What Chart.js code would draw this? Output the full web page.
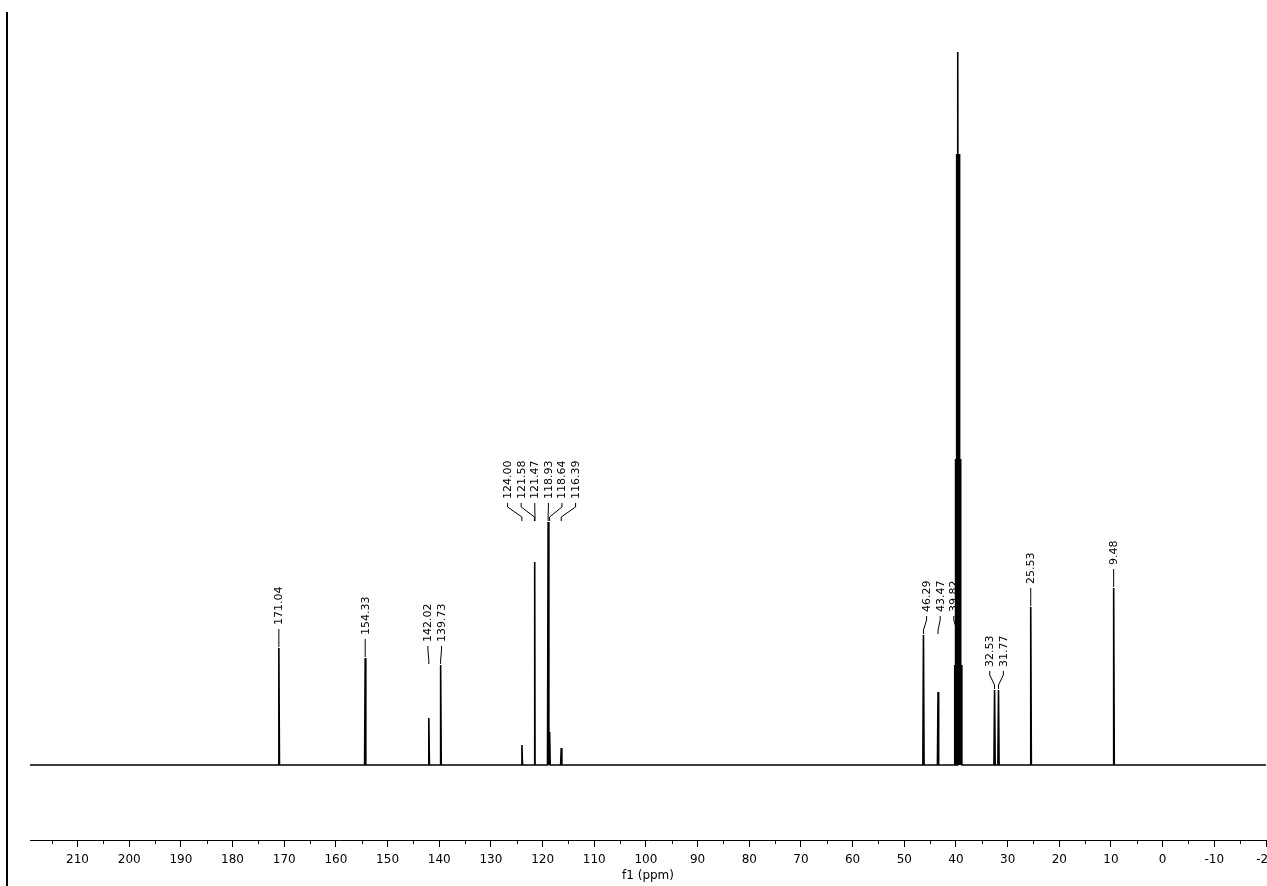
<!DOCTYPE html>
<html>
<head>
<meta charset="utf-8">
<script src="https://cdn.jsdelivr.net/npm/chart.js@4"></script>
<style>
  html, body { margin: 0; padding: 0; background: #fff; }
  #wrap { position: relative; width: 1267px; height: 886px; }
</style>
</head>
<body>
<div id="wrap"><canvas id="spectrum"></canvas></div>
<script>
// 13C spectrum, peaks (intensity in arbitrary units)
const peakPpm = [171.04, 154.33, 142.02, 139.73, 124.00, 121.58, 121.47, 118.93, 118.64, 116.39,
  46.29, 43.47, 40.24, 40.03, 39.82, 39.61, 39.40, 39.19, 38.98, 32.53, 31.77, 25.53, 9.48];
const peakHeight = [117, 107, 47, 100, 20, 203, 196, 243, 33, 17,
  130, 73, 100, 306, 611, 713, 611, 306, 100, 75, 75, 158, 177];

// picked peaks, grouped the way the labels are stacked
const labelGroups = [
  [171.04], [154.33], [142.02, 139.73],
  [124.00, 121.58, 121.47, 118.93, 118.64, 116.39],
  [46.29, 43.47, 39.82], [32.53, 31.77], [25.53], [9.48]
];

const majorTicks = [210, 200, 190, 180, 170, 160, 150, 140, 130, 120, 110, 100, 90, 80, 70, 60, 50, 40, 30, 20, 10, 0, -10, -20];
const minorTicks = [215, 205, 195, 185, 175, 165, 155, 145, 135, 125, 115, 105, 95, 85, 75, 65, 55, 45, 35, 25, 15, 5, -5, -15];
const axisMin = -20;
const axisMax = 219.2;
const axisTitle = 'f1 (ppm)';

Chart.defaults.font.family = 'DejaVu Sans';
Chart.defaults.color = '#000';

// spectrum as a polyline: flat baseline with a narrow spike per peak
var halfWidth = 0.12;
var pts = [{x: axisMax, y: 0}, {x: axisMin, y: 0}];
peakPpm.forEach(function(p, i){
  pts.push({x: p + halfWidth, y: 0});
  pts.push({x: p, y: peakHeight[i]});
  pts.push({x: p - halfWidth, y: 0});
});
pts.sort(function(a, b){ return b.x - a.x; });

function heightAt(ppm){
  var i = peakPpm.indexOf(ppm);
  return i >= 0 ? peakHeight[i] : 0;
}

const peakLabels = {
  id: 'peakLabels',
  afterDatasetsDraw: function(chart){
    const ctx = chart.ctx;
    const xs = chart.scales.x, ys = chart.scales.y;
    ctx.save();
    ctx.strokeStyle = '#000';
    ctx.fillStyle = '#000';
    ctx.lineWidth = 1;
    ctx.font = '11px "DejaVu Sans"';
    labelGroups.forEach(function(group){
      // anchor the labels over the tallest peak that is not the solvent
      var top = 0;
      group.forEach(function(p){
        var h = heightAt(p);
        if (h < 300 && h > top) top = h;
      });
      var textBottom = ys.getPixelForValue(top) - 23;
      var px = group.map(function(p){ return xs.getPixelForValue(p); });
      var mid = (Math.min.apply(null, px) + Math.max.apply(null, px)) / 2;
      var step = 13.6;
      group.forEach(function(p, i){
        var lx = group.length == 1 ? px[i] : mid + (i - (group.length - 1) / 2) * step;
        var y0 = textBottom + 4;
        ctx.beginPath();
        ctx.moveTo(lx, y0);
        ctx.lineTo(lx, y0 + 4);
        ctx.lineTo(px[i], y0 + 14);
        ctx.lineTo(px[i], y0 + 18);
        ctx.stroke();
        ctx.save();
        ctx.translate(lx + 0.5, textBottom);
        ctx.rotate(-Math.PI / 2);
        ctx.textAlign = 'left';
        ctx.textBaseline = 'middle';
        ctx.fillText(p.toFixed(2), 0, 0);
        ctx.restore();
      });
    });
    ctx.restore();
  }
};

const extras = {
  id: 'extras',
  afterDraw: function(chart){
    const ctx = chart.ctx;
    const xs = chart.scales.x;
    ctx.save();
    // minor ticks
    ctx.strokeStyle = '#000';
    ctx.lineWidth = 1;
    minorTicks.forEach(function(v){
      var x = Math.round(xs.getPixelForValue(v)) + 0.5;
      ctx.beginPath();
      ctx.moveTo(x, xs.top);
      ctx.lineTo(x, xs.top + 4);
      ctx.stroke();
    });
    // vertical bar on the far left
    ctx.fillStyle = '#000';
    ctx.fillRect(6, 12, 2, 874);
    ctx.restore();
  }
};

new Chart(document.getElementById('spectrum'), {
  type: 'line',
  data: {
    datasets: [{
      data: pts,
      borderColor: '#000',
      borderWidth: 1.6,
      pointRadius: 0,
      tension: 0,
      fill: false
    }]
  },
  options: {
    responsive: true,
    maintainAspectRatio: false,
    animation: false,
    layout: { padding: { left: 30, right: 1, top: 40, bottom: 0 } },
    plugins: {
      legend: { display: false },
      tooltip: { enabled: false }
    },
    scales: {
      x: {
        type: 'linear',
        reverse: true,
        min: axisMin,
        max: axisMax,
        afterBuildTicks: function(s){
          s.ticks = majorTicks.concat(minorTicks).sort(function(a, b){ return a - b; }).map(function(v){ return {value: v}; });
        },
        afterFit: function(s){
          s.height = 46;
          s.paddingLeft = 0;
          s.paddingRight = 0;
        },
        ticks: {
          autoSkip: false,
          maxRotation: 0,
          padding: 6,
          font: { size: 12 },
          color: '#000',
          callback: function(v){ return majorTicks.indexOf(v) >= 0 ? String(v) : ''; }
        },
        grid: {
          display: true,
          drawOnChartArea: false,
          tickLength: 7,
          tickWidth: 1,
          tickColor: function(c){ return c.tick && majorTicks.indexOf(c.tick.value) >= 0 ? '#000' : 'rgba(0,0,0,0)'; }
        },
        border: { display: true, color: '#000', width: 1 },
        title: {
          display: true,
          text: axisTitle,
          font: { size: 12 },
          color: '#000',
          padding: { top: 0, bottom: 3 }
        }
      },
      y: {
        display: false,
        min: -75,
        max: 725
      }
    }
  },
  plugins: [peakLabels, extras]
});
</script>
</body>
</html>
